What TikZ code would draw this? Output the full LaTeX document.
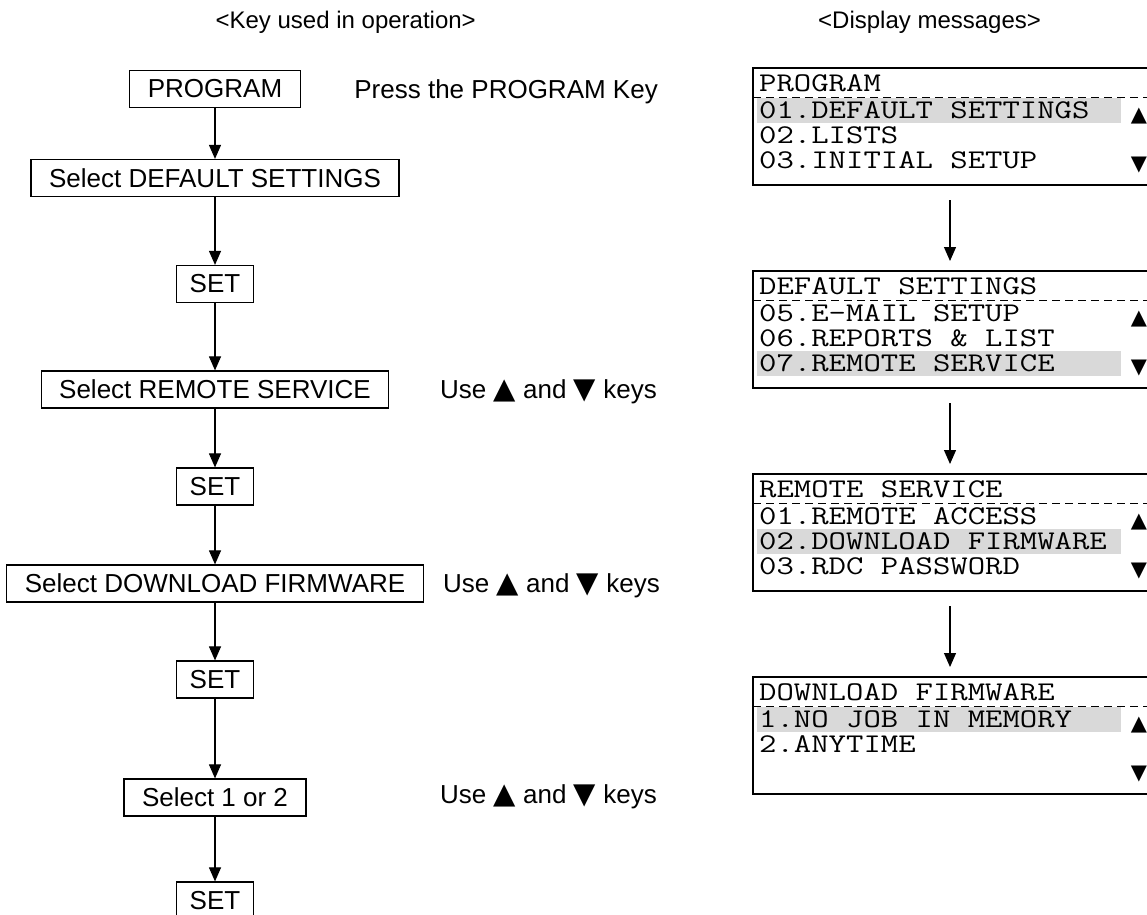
\documentclass[tikz,border=0pt]{standalone}
\usepackage{fontspec}
\setmainfont{Liberation Sans}
\newfontfamily\lcdfont[FakeStretch=1.25]{Latin Modern Mono}
\newfontfamily\symfont{DejaVu Sans}
\usetikzlibrary{arrows.meta}
\newcommand{\keyup}{{\symfont\fontsize{29}{30}\selectfont ▲}}
\newcommand{\keydown}{{\symfont\fontsize{29}{30}\selectfont ▼}}
\tikzset{
    keybox/.style={draw, line width=1.2pt, inner xsep=18pt, inner ysep=0pt,
        minimum height=37pt, font=\fontsize{26}{30}\selectfont},
    setkey/.style={keybox, inner xsep=0pt, minimum width=77pt},
    hint/.style={anchor=west, inner sep=0pt, font=\fontsize{26}{30}\selectfont},
    head/.style={inner sep=0pt, font=\fontsize{24}{28}\selectfont},
    flow/.style={line width=1.1pt, -{Triangle[length=14pt, width=12pt]}},
    lcd/.style={draw, line width=2.8pt},
    lcdsel/.style={fill=black!15},
    lcdline/.style={anchor=base west, inner sep=0pt, font=\lcdfont\fontsize{27}{30}\selectfont},
    lcdmark/.style={inner sep=0pt, font=\symfont\fontsize{21}{24}\selectfont}
}

\begin{document}
\begin{tikzpicture}[x=1pt, y=-1pt]
    \useasboundingbox (0,0) rectangle (1147,914);
    \clip (0,0) rectangle (1147,914);
    % Headings
    \node[head, anchor=east] (headKey) at (476,22) {<Key used in operation>};
    \node[head, anchor=west] (headLcd) at (818,22) {<Display messages>};
    % Keys
    \node[keybox] (prog) at (215,89) {PROGRAM};
    \node[keybox] (selDef) at (215,178) {Select DEFAULT SETTINGS};
    \node[setkey] (setA) at (215,284) {SET};
    \node[keybox] (selRem) at (215,389.5) {Select REMOTE SERVICE};
    \node[setkey] (setB) at (215,486.5) {SET};
    \node[keybox] (selFw) at (215,583.5) {Select DOWNLOAD FIRMWARE};
    \node[setkey] (setC) at (215,679.5) {SET};
    \node[keybox] (selNum) at (215,797.5) {Select 1 or 2};
    \node[setkey] (setD) at (215,900.5) {SET};
    \foreach \a/\b in {prog/selDef, selDef/setA, setA/selRem, selRem/setB,
        setB/selFw, selFw/setC, setC/selNum, selNum/setD}
        \draw[flow] (\a) -- (\b);
    \node[hint, anchor=east] (hintProg) at (658,92) {Press the PROGRAM Key};
    \node[hint] (hintRem) at (440,392) {Use \keyup{} and \keydown{} keys};
    \node[hint] (hintFw) at (443,586) {Use \keyup{} and \keydown{} keys};
    \node[hint] (hintNum) at (440,797) {Use \keyup{} and \keydown{} keys};
    % Display screens
    \foreach \top/\name/\title/\ra/\rb/\rc/\sel in {
        68/scrA/PROGRAM/01.DEFAULT SETTINGS/02.LISTS/03.INITIAL SETUP/1,
        271/scrB/DEFAULT SETTINGS/05.E-MAIL SETUP/06.REPORTS \& LIST/07.REMOTE SERVICE/3,
        474/scrC/REMOTE SERVICE/01.REMOTE ACCESS/02.DOWNLOAD FIRMWARE/03.RDC PASSWORD/2,
        677/scrD/DOWNLOAD FIRMWARE/1.NO JOB IN MEMORY/2.ANYTIME/{}/1}{
        \fill[lcdsel] (757,{\top+30+25*(\sel-1)}) rectangle (1121,{\top+55+25*(\sel-1)});
        \draw[lcd] (753,\top) rectangle (1170,{\top+117});
        \draw[line width=1pt, dash pattern=on 8pt off 5pt] (753,{\top+29}) -- (1170,{\top+29});
        \node[lcdline] (\name-t) at (759,{\top+23}) {\title};
        \node[lcdline] (\name-1) at (759,{\top+50}) {\ra};
        \node[lcdline] (\name-2) at (759,{\top+75}) {\rb};
        \node[lcdline] (\name-3) at (759,{\top+100}) {\rc};
        \node[lcdmark] (\name-up) at (1139,{\top+48}) {▲};
        \node[lcdmark] (\name-dn) at (1139,{\top+97}) {▼};
        \coordinate (\name-in) at (950,{\top-10});
        \coordinate (\name-out) at (950,{\top+132});
    }
    \foreach \a/\b in {scrA/scrB, scrB/scrC, scrC/scrD}
        \draw[flow] (\a-out) -- (\b-in);
\end{tikzpicture}
\end{document}
